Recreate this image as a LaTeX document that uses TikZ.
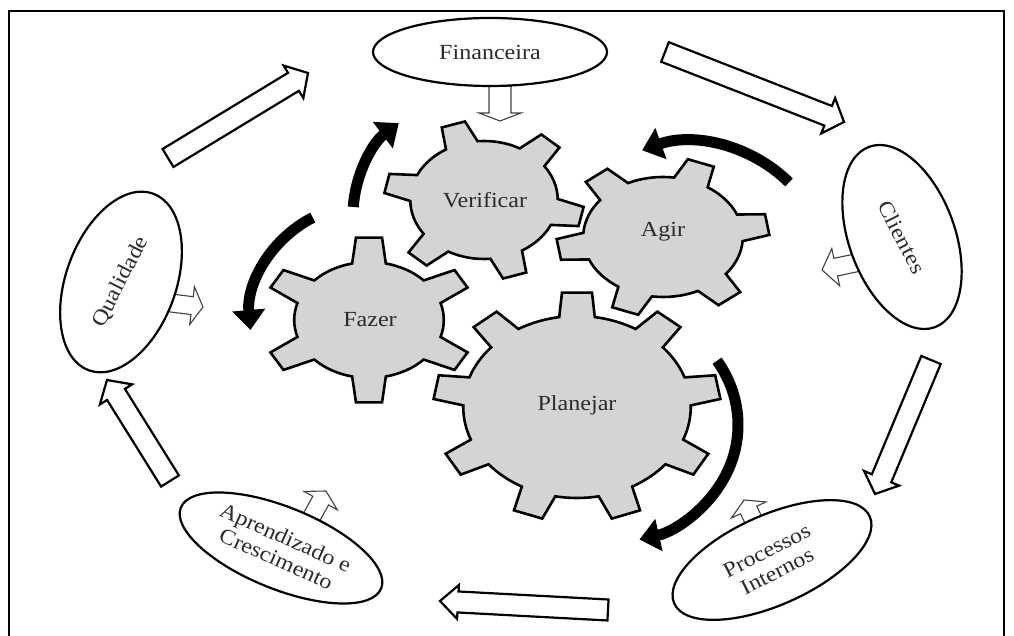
\documentclass[tikz,border=0pt]{standalone}
\usepackage{fontspec}
\setmainfont{Liberation Serif}[FakeStretch=1.12]
\usetikzlibrary{shapes.geometric,arrows.meta,calc}
\definecolor{gearfill}{HTML}{D4D4D4}
\definecolor{ink}{HTML}{2B2B2B}

\tikzset{
  frameline/.style={line width=2pt},
  persp/.style={draw, ellipse, line width=2.2pt, inner sep=0pt, fill=white},
  plabel/.style={text=ink, font=\fontsize{21.5}{23}\selectfont, align=center, inner sep=0pt},
  gearbody/.style={fill=gearfill, draw=black, line width=2.6pt, line join=miter},
  bigflow/.style={draw=black, fill=white, line width=2.2pt, line join=miter},
  smallflow/.style={draw=black!75, fill=white, line width=1.1pt, line join=miter},
  turn/.style={line width=11pt, -{Triangle[length=20pt,width=32pt]}},
}

% gear: name, centre, xscale, teeth, root radius, tip radius, first tooth angle,
% half-angle of tooth at root, half-angle of tooth at tip
\newcommand\gearshape[9]{%
  \pgfmathsetmacro\gstep{360/#4}%
  \begin{scope}[shift={#2}, xscale=#3]
    \draw[gearbody] (#7-#8:#5)
      \foreach \k in {1,...,#4}{
        -- ({#7+(\k-1)*\gstep-#8}:#5)
        -- ({#7+(\k-1)*\gstep-#9}:#6)
        -- ({#7+(\k-1)*\gstep+#9}:#6)
        -- ({#7+(\k-1)*\gstep+#8}:#5)
        arc[start angle={#7+(\k-1)*\gstep+#8}, end angle={#7+\k*\gstep-#8}, radius=#5]
      } -- cycle;
  \end{scope}%
  \coordinate (#1) at #2;%
}

% hollow block arrow: style, tail, tip, shaft half-width, head half-width, head length
\newcommand\flowarrow[6]{%
  \path (#2); \pgfgetlastxy{\fax}{\fay}%
  \path (#3); \pgfgetlastxy{\fbx}{\fby}%
  \pgfmathsetmacro\fang{atan2(\fby-\fay,\fbx-\fax)}%
  \pgfmathsetmacro\flen{veclen(\fbx-\fax,\fby-\fay)}%
  \begin{scope}[shift={(#2)}, rotate=\fang]
    \draw[#1] (0,-#4) -- ({\flen-#6},-#4) -- ({\flen-#6},-#5) -- (\flen,0)
      -- ({\flen-#6},#5) -- ({\flen-#6},#4) -- (0,#4) -- cycle;
  \end{scope}%
}

\begin{document}
\begin{tikzpicture}[x=1pt,y=1pt]
\useasboundingbox (0,0) rectangle (1014,636);

% frame
\draw[frameline] (9,-5) -- (9,625) -- (1004,625) -- (1004,-5);

% gears
\gearshape{gF}{(369,316)}{1.29}{6}{58}{83}{90}{13}{7}
\gearshape{gV}{(484,436)}{1.25}{6}{59}{80}{108}{13}{7}
\gearshape{gA}{(663,399)}{1.33}{6}{60}{80}{9}{13}{7.5}
\gearshape{gP}{(577,229)}{1.25}{9}{91}{115}{90}{9}{6}

\node[plabel] (fazer) at (370,316) {Fazer};
\node[plabel] (verificar) at (485,436) {Verificar};
\node[plabel] (agir) at (663,404) {Agir};
\node[plabel] (planejar) at (577,231) {Planejar};

% rotation arrows round the gears
\coordinate (c1) at (468,421);
\coordinate (c2) at (365,316);
\coordinate (c3) at (690,356);
\coordinate (c4) at (608,211);
\draw[turn] (c1) ++(176:115) arc[start angle=176, end angle=127, radius=115];
\draw[turn] (c2) ++(117:115) arc[start angle=117, end angle=185, radius=115];
\draw[turn] (c3) ++(45:140 and 138) arc[start angle=45, end angle=110, x radius=140, y radius=138];
\draw[turn] (c4) ++(33:130 and 118) arc[start angle=33, end angle=-76, x radius=130, y radius=118];

% small arrows from each perspective towards the gears
\coordinate (s1a) at (500,550); \coordinate (s1b) at (500,515);
\coordinate (s2a) at (163,334); \coordinate (s2b) at (203,329);
\coordinate (s3a) at (865,375); \coordinate (s3b) at (822,366);
\coordinate (s4a) at (310,116); \coordinate (s4b) at (326,145);
\coordinate (s5a) at (758,106); \coordinate (s5b) at (744,136);
\flowarrow{smallflow}{s1a}{s1b}{11}{21}{8}
\flowarrow{smallflow}{s2a}{s2b}{9}{19}{11}
\flowarrow{smallflow}{s3a}{s3b}{9}{19}{14}
\flowarrow{smallflow}{s4a}{s4b}{9}{19}{11}
\flowarrow{smallflow}{s5a}{s5b}{9}{19}{11}

% perspectives
\node[persp, minimum width=234, minimum height=68] (fin) at (490,584) {};
\node[plabel] (finlab) at (490,584) {Financeira};
\node[persp, minimum width=188, minimum height=110, rotate=70] (qual) at (121,354) {};
\node[plabel, rotate=63] (quallab) at (121,354) {Qualidade};
\node[persp, minimum width=192, minimum height=106, rotate=-70] (cli) at (902,399) {};
\node[plabel, rotate=-63] (clilab) at (902,399) {Clientes};
\node[persp, minimum width=214, minimum height=90, rotate=24] (proc) at (772,76) {};
\node[plabel, rotate=27] (proclab) at (772,75) {Processos\\Internos};
\node[persp, minimum width=216, minimum height=82, rotate=-22] (apr) at (281,88) {};
\node[plabel, rotate=-24] (aprlab) at (281,88) {Aprendizado e\\Crescimento};

% cycle between the perspectives
\coordinate (a1s) at (168,478); \coordinate (a1e) at (308,563);
\coordinate (a2s) at (665,584); \coordinate (a2e) at (844,514);
\coordinate (a3s) at (931,276); \coordinate (a3e) at (875,142);
\coordinate (a4s) at (608,26);  \coordinate (a4e) at (440,35);
\coordinate (a5s) at (170,155); \coordinate (a5e) at (107,256);
\flowarrow{bigflow}{a1s}{a1e}{10.5}{19}{17}
\flowarrow{bigflow}{a2s}{a2e}{10.5}{19}{17}
\flowarrow{bigflow}{a3s}{a3e}{10.5}{19}{17}
\flowarrow{bigflow}{a4s}{a4e}{10.5}{17}{18}
\flowarrow{bigflow}{a5s}{a5e}{10.5}{19}{17}
\end{tikzpicture}
\end{document}
